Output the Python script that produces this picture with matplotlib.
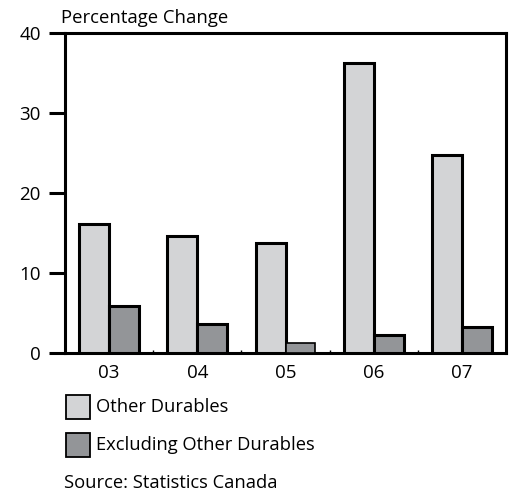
import numpy as np
import matplotlib.pyplot as plt
from matplotlib.patches import Rectangle

plt.rcParams['font.family'] = ['Open Sans', 'DejaVu Sans']

# Annual percentage change by year
years = ['03', '04', '05', '06', '07']
other_durables = [16.2, 14.7, 13.8, 36.2, 24.75]
excluding_other = [5.9, 3.7, 1.25, 2.25, 3.25]

light = '#d3d4d6'
dark = '#939598'
edge_lw = 2.2

fig = plt.figure(figsize=(5.09, 4.93), dpi=100)
ax = fig.add_axes([65 / 509, 139.7 / 493, 441 / 509, 320.3 / 493])

x = np.arange(len(years))
w = 0.34
ax.bar(x - w / 2, other_durables, w, color=light, edgecolor='black', linewidth=edge_lw, zorder=3)
lws = [edge_lw if v > 2 else 1.2 for v in excluding_other]
ax.bar(x + w / 2, excluding_other, w, color=dark, edgecolor='black', linewidth=lws, zorder=3)

ax.set_xlim(-0.5, len(years) - 0.5)
ax.set_ylim(0, 40)
ax.set_yticks([0, 10, 20, 30, 40])
ax.set_xticks(x)
ax.set_xticklabels(years)
ax.set_xticks(np.arange(0.5, len(years) - 1), minor=True)

for s in ax.spines.values():
    s.set_linewidth(2.2)
ax.tick_params(axis='y', direction='out', length=11.5, width=2.2, labelsize=13.5, pad=6)
ax.tick_params(axis='x', which='major', length=0, labelsize=13.5, pad=8)
ax.tick_params(axis='x', which='minor', direction='in', length=2, width=1)

fig.text(61 / 509, 1 - 18 / 493, 'Percentage Change', fontsize=13.3, va='center', ha='left')

# legend drawn as figure patches
for i, (col, lab) in enumerate([(light, 'Other Durables'),
                                (dark, 'Excluding Other Durables')]):
    ytop = 395 + i * 38
    fig.patches.append(Rectangle((66 / 509, 1 - (ytop + 24) / 493), 24 / 509, 24 / 493,
                                 transform=fig.transFigure, facecolor=col,
                                 edgecolor='black', linewidth=1.3))
    fig.text(96 / 509, 1 - (ytop + 12) / 493, lab, fontsize=13.2, va='center', ha='left')

fig.text(64 / 509, 1 - 483 / 493, 'Source: Statistics Canada', fontsize=13.2, va='center', ha='left')

fig.savefig('out.png', dpi=100)
